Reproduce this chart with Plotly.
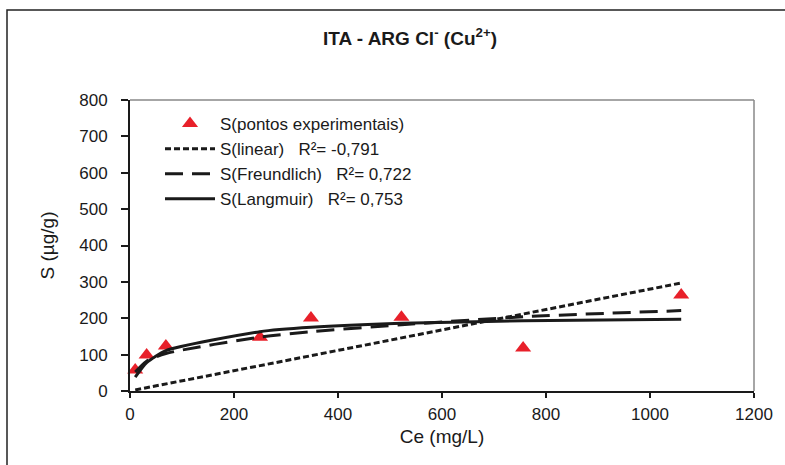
import plotly.graph_objects as go

# Data
ce_exp = [10, 32, 69, 250, 348, 522, 756, 1060]
s_exp = [58, 99, 124, 148, 201, 203, 118, 264]
s_linear = [3, 9, 19, 70, 97, 146, 212, 297]
s_freundlich = [52, 82, 103, 148, 163, 182, 204, 221]
s_langmuir = [38, 78, 111, 163, 175, 186, 193, 197]

x_ticks = [0, 200, 400, 600, 800, 1000, 1200]
y_ticks = [0, 100, 200, 300, 400, 500, 600, 700, 800]

W, H = 785, 465
ML, MR, MT, MB = 130, 31, 100, 74
PW, PH = W - ML - MR, H - MT - MB

NB = "\u00a0"
font_family = "Liberation Sans, Arial, sans-serif"

fig = go.Figure()
fig.add_trace(go.Scatter(
    x=ce_exp, y=s_exp, mode="markers", name="S(pontos" + NB + "experimentais)",
    marker=dict(symbol="triangle-up", size=14, color="#e8202a"),
    cliponaxis=False,
))
fig.add_trace(go.Scatter(
    x=ce_exp, y=s_linear, mode="lines", name="S(linear)" + NB * 3 + "R²= -0,791",
    line=dict(color="#1a1a1a", width=3, dash="6px,3px"),
))
fig.add_trace(go.Scatter(
    x=ce_exp, y=s_freundlich, mode="lines", name="S(Freundlich)" + NB * 3 + "R²= 0,722",
    line=dict(color="#1a1a1a", width=3, dash="18px,9px", shape="spline", smoothing=0.7),
))
fig.add_trace(go.Scatter(
    x=ce_exp, y=s_langmuir, mode="lines", name="S(Langmuir)" + NB * 3 + "R²= 0,753",
    line=dict(color="#1a1a1a", width=3, shape="spline", smoothing=0.6),
))

def px_x(p):
    return (p - ML) / PW

def px_y(p):
    return (H - MB - p) / PH

shapes = [
    dict(type="rect", xref="paper", yref="paper",
         x0=px_x(7), x1=px_x(800), y0=px_y(480), y1=px_y(10),
         line=dict(color="#222", width=1.5), fillcolor="rgba(0,0,0,0)", layer="below"),
    dict(type="line", xref="paper", yref="paper", x0=0, x1=1, y0=1, y1=1,
         line=dict(color="#888", width=1.5)),
    dict(type="line", xref="paper", yref="paper", x0=1, x1=1, y0=0, y1=1,
         line=dict(color="#888", width=1.5)),
]

fig.update_layout(
    width=W, height=H,
    margin=dict(l=ML, r=MR, t=MT, b=MB),
    paper_bgcolor="white", plot_bgcolor="white",
    font=dict(family=font_family, size=17, color="#1a1a1a"),
    title=dict(text="<b>ITA - ARG Cl<sup>-</sup> (Cu<sup>2+</sup>)</b>",
               x=410 / W, xanchor="center", y=1 - 38 / H, yanchor="middle",
               font=dict(size=19, family=font_family)),
    showlegend=True,
    legend=dict(x=px_x(160), y=px_y(106), xanchor="left", yanchor="top",
                bgcolor="rgba(0,0,0,0)", font=dict(size=17, family=font_family),
                itemwidth=50, tracegroupgap=0),
    shapes=shapes,
    xaxis=dict(range=[0, 1200], tickvals=x_ticks, showgrid=False, zeroline=False,
               showline=True, linecolor="#1a1a1a", linewidth=2,
               ticks="outside", ticklen=5, tickwidth=1.5, tickcolor="#1a1a1a",
               tickfont=dict(size=17), ticklabelstandoff=2,
               title=dict(text="Ce (mg/L)", font=dict(size=19), standoff=6)),
    yaxis=dict(range=[0, 800], tickvals=y_ticks, showgrid=False, zeroline=False,
               showline=True, linecolor="#1a1a1a", linewidth=2,
               ticks="outside", ticklen=7, tickwidth=1.5, tickcolor="#1a1a1a",
               tickfont=dict(size=17), ticklabelstandoff=10,
               title=dict(text="S (µg/g)", font=dict(size=19), standoff=20)),
)

fig.write_html("out.html")
